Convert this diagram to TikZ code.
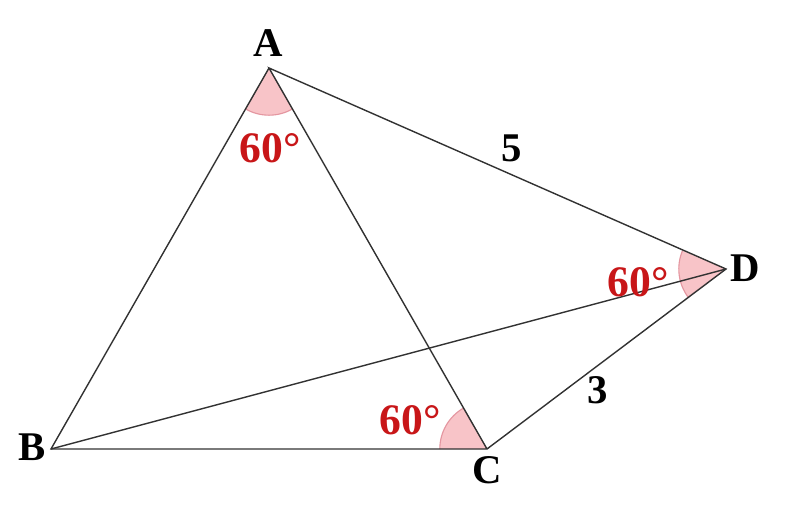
\documentclass[tikz,border=0pt]{standalone}
\usepackage{fontspec}
\setmainfont{Liberation Serif}
\definecolor{angfill}{RGB}{248,196,200}
\definecolor{angline}{RGB}{228,150,160}
\definecolor{lblred}{RGB}{200,22,24}
\definecolor{edge}{RGB}{50,50,50}
\tikzset{
  vlabel/.style={font=\fontsize{29}{31}\selectfont\bfseries, text=black, inner sep=0pt},
  alabel/.style={font=\fontsize{31}{33}\selectfont\bfseries, text=lblred, inner sep=0pt},
  side/.style={edge, line width=1pt}
}
\begin{document}
\begin{tikzpicture}[radius=1.18cm,delta angle=60]
        \useasboundingbox (0,0) rectangle (20,13.1);
        \coordinate (A) at (6.725,11.4);
        \coordinate (B) at (1.275,1.875);
        \coordinate (C) at (12.175,1.875);
        \coordinate (D) at (18.15,6.375);
        % angle marks
        \fill[angfill] (A) -- +(240:1.18cm) arc [start angle=240] -- cycle;
        \fill[angfill] (C) -- +(120:1.18cm) arc [start angle=120] -- cycle;
        \fill[angfill] (D) -- +(157:1.18cm) arc [start angle=157] -- cycle;
        \draw[angline, line width=0.8pt] (A) +(240:1.18cm) arc [start angle=240];
        \draw[angline, line width=0.8pt] (C) +(120:1.18cm) arc [start angle=120];
        \draw[angline, line width=0.8pt] (D) +(157:1.18cm) arc [start angle=157];
        % sides
        \draw[side] (A) -- (B) -- (C) -- (D) -- (A) -- (C);
        \draw[side] (B) -- (D);
        % labels
        \path (6.7,12.025) node[vlabel] (lA) {A};
        \path (0.8,1.925) node[vlabel] (lB) {B};
        \path (12.175,1.35) node[vlabel] (lC) {C};
        \path (18.625,6.4) node[vlabel] (lD) {D};
        \path (6.75,9.4) node[alabel] (aA) {60°};
        \path (10.25,2.6) node[alabel] (aC) {60°};
        \path (15.95,6.05) node[alabel] (aD) {60°};
        \path (12.8,9.4) node[vlabel] (sAD) {5};
        \path (14.95,3.35) node[vlabel] (sCD) {3};
    \end{tikzpicture}
\end{document}
